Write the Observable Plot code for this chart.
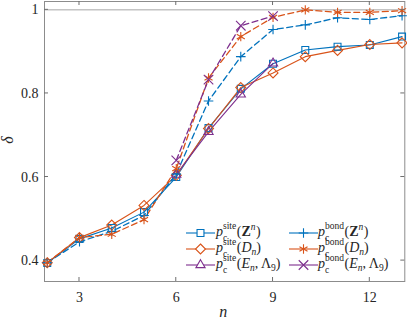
<!DOCTYPE html>
<html><head><meta charset="utf-8">
<script src="https://cdn.jsdelivr.net/npm/d3@7"></script>
<script src="https://cdn.jsdelivr.net/npm/@observablehq/plot@0.6"></script>
<style>body{margin:0;background:#fff;font-family:'Liberation Serif',serif}#chart{width:407px;height:320px}
#chart svg text{font-family:'Liberation Serif','DejaVu Serif',serif}</style>
</head><body><div id="chart"></div>
<script>
// ---- data ----
const nAll = [2, 3, 4, 5, 6, 7, 8, 9, 10, 11, 12, 13];
const nE = [6, 7, 8, 9];
const siteZ = [0.394, 0.452, 0.478, 0.516, 0.600, 0.717, 0.811, 0.871, 0.904, 0.912, 0.916, 0.936];
const siteD = [0.395, 0.455, 0.485, 0.532, 0.604, 0.716, 0.814, 0.849, 0.888, 0.903, 0.917, 0.921];
const siteE = [0.606, 0.708, 0.798, 0.872];
const bondZ = [0.395, 0.445, 0.470, 0.508, 0.607, 0.782, 0.888, 0.953, 0.964, 0.981, 0.977, 0.986];
const bondD = [0.395, 0.455, 0.463, 0.498, 0.620, 0.837, 0.936, 0.982, 1.000, 0.994, 0.994, 0.998];
const bondE = [0.640, 0.833, 0.962, 0.985];
const xTicks = [3, 6, 9, 12];
const yTicks = [0.4, 0.6, 0.8, 1];
const yTickLabels = ["0.4", "0.6", "0.8", "1"];

const blue = "#0072BD", orange = "#D95319", purple = "#7E2F8E";
const frameColor = "#8c8c8c", tickColor = "#6e6e6e", textColor = "#262626";
const serif = "'Liberation Serif', 'DejaVu Serif', serif";
const dash = "6,3.5";

const toRows = (ns, vs) => ns.map((n, i) => ({n, v: vs[i]}));
const series = [
  {key: "siteZ", data: toRows(nAll, siteZ), color: blue, dash: null, symbol: "square2", r: 4.4, sup: "site", arg: "Z"},
  {key: "siteD", data: toRows(nAll, siteD), color: orange, dash: null, symbol: "diamond2", r: 4.5, sup: "site", arg: "D"},
  {key: "siteE", data: toRows(nE, siteE), color: purple, dash: null, symbol: "triangle2", r: 4.4, sup: "site", arg: "E"},
  {key: "bondZ", data: toRows(nAll, bondZ), color: blue, dash: dash, symbol: "plus", r: 3.2, sup: "bond", arg: "Z"},
  {key: "bondD", data: toRows(nAll, bondD), color: orange, dash: dash, symbol: "asterisk", r: 4.4, sup: "bond", arg: "D"},
  {key: "bondE", data: toRows(nE, bondE), color: purple, dash: dash, symbol: "times", r: 4.4, sup: "bond", arg: "E"}
];

const marks = [
  Plot.ruleY([1], {stroke: "#a6a6a6", strokeWidth: 1}),
  Plot.frame({stroke: frameColor, strokeWidth: 1}),
  Plot.axisX(xTicks, {tickSize: 0, tickPadding: 11, label: null, fontSize: 14, fill: textColor}),
  Plot.axisY(yTicks, {tickSize: 0, tickPadding: 6, label: null, fontSize: 14, fill: textColor,
    tickFormat: (d) => yTickLabels[yTicks.indexOf(d)]})
];
for (const s of series) {
  marks.push(Plot.line(s.data, {x: "n", y: "v", stroke: s.color, strokeWidth: s.dash ? 1.3 : 1.1,
    strokeDasharray: s.dash || undefined}));
}
for (const s of series) {
  marks.push(Plot.dot(s.data, {x: "n", y: "v", symbol: s.symbol, r: s.r, stroke: s.color,
    fill: "none", strokeWidth: 1.1}));
}

const plot = Plot.plot({
  width: 407, height: 320,
  marginLeft: 44, marginRight: 2.7, marginTop: 1, marginBottom: 39,
  x: {domain: [1.915, 13.085], axis: null},
  y: {domain: [0.35, 1.02], axis: null},
  style: {fontFamily: serif, fontSize: "14px", background: "white", color: textColor},
  marks
});
document.getElementById("chart").appendChild(plot);

const svg = d3.select(plot).attr("font-family", serif);
const sx = plot.scale("x"), sy = plot.scale("y");
const [x0, x1] = sx.range, [yb, yt] = sy.range;
const tl = 4;
const tg = svg.append("g").attr("stroke", tickColor).attr("stroke-width", 1);
for (const t of xTicks) {
  const px = sx.apply(t);
  tg.append("line").attr("x1", px).attr("x2", px).attr("y1", yb).attr("y2", yb - tl);
  tg.append("line").attr("x1", px).attr("x2", px).attr("y1", yt).attr("y2", yt + tl);
}
for (const t of yTicks) {
  const py = sy.apply(t);
  tg.append("line").attr("y1", py).attr("y2", py).attr("x1", x0).attr("x2", x0 + tl);
  tg.append("line").attr("y1", py).attr("y2", py).attr("x1", x1).attr("x2", x1 - tl);
}

// axis labels
svg.append("text").attr("x", (x0 + x1) / 2 - 1).attr("y", 317)
  .attr("text-anchor", "middle").attr("font-style", "italic").attr("font-size", 16)
  .attr("fill", textColor).text("n");
svg.append("text").attr("transform", "translate(13,140) rotate(-90)")
  .attr("text-anchor", "middle").attr("font-style", "italic").attr("font-size", 16)
  .attr("fill", textColor).text("δ");

// legend with math text
const lg = svg.append("g").attr("text-anchor", "start");
function mathText(x, y, tokens) {
  let cur = x, prevStart = x, prevEnd = x;
  for (const tk of tokens) {
    const sx0 = tk.stack ? prevStart : cur;
    const t = lg.append("text").attr("x", sx0).attr("y", y + (tk.dy || 0))
      .attr("text-anchor", "start")
      .attr("font-size", tk.fs || 14).attr("fill", textColor)
      .attr("font-style", tk.it ? "italic" : "normal")
      .attr("font-weight", tk.b ? "bold" : "normal").text(tk.t);
    const w = t.node().getComputedTextLength();
    if (tk.stack) { cur = Math.max(prevEnd, sx0 + w); }
    else { cur = sx0 + w; }
    prevStart = sx0; prevEnd = cur;
    if (tk.gap) cur += tk.gap;
  }
}
function argTokens(arg) {
  if (arg === "Z") return [{t: "("}, {t: "Z", b: true}, {t: "n", it: true, fs: 9.5, dy: -6, gap: 0.5}, {t: ")"}];
  if (arg === "D") return [{t: "("}, {t: "D", it: true}, {t: "n", it: true, fs: 9.5, dy: 3}, {t: ")"}];
  return [{t: "("}, {t: "E", it: true}, {t: "n", it: true, fs: 9.5, dy: 3}, {t: ", Λ"}, {t: "9", fs: 9.5, dy: 3}, {t: ")"}];
}
const symMap = {square2: d3.symbolSquare2, diamond2: d3.symbolDiamond2, triangle2: d3.symbolTriangle2,
  plus: d3.symbolPlus, asterisk: d3.symbolAsterisk, times: d3.symbolTimes};
const legendCols = [{lineX: 186, mx: 200.5, textX: 216}, {lineX: 289, mx: 303.5, textX: 318}];
const legendBase = [236, 252, 268];
series.forEach((s, i) => {
  const col = legendCols[Math.floor(i / 3)];
  const yb0 = legendBase[i % 3];
  const ym = yb0 - 3;
  lg.append("line").attr("x1", col.lineX).attr("x2", col.lineX + 29).attr("y1", ym).attr("y2", ym)
    .attr("stroke", s.color).attr("stroke-width", 1.1);
  lg.append("path").attr("transform", `translate(${col.mx},${ym})`)
    .attr("d", d3.symbol(symMap[s.symbol], s.r * s.r * Math.PI)())
    .attr("fill", "white").attr("stroke", s.color).attr("stroke-width", 1.1);
  mathText(col.textX, yb0, [
    {t: "p", it: true},
    {t: "c", fs: 9.5, dy: 4.5},
    {t: s.sup, fs: 9.5, dy: -7.5, stack: true, gap: 0.5},
    ...argTokens(s.arg)
  ]);
});
</script></body></html>
